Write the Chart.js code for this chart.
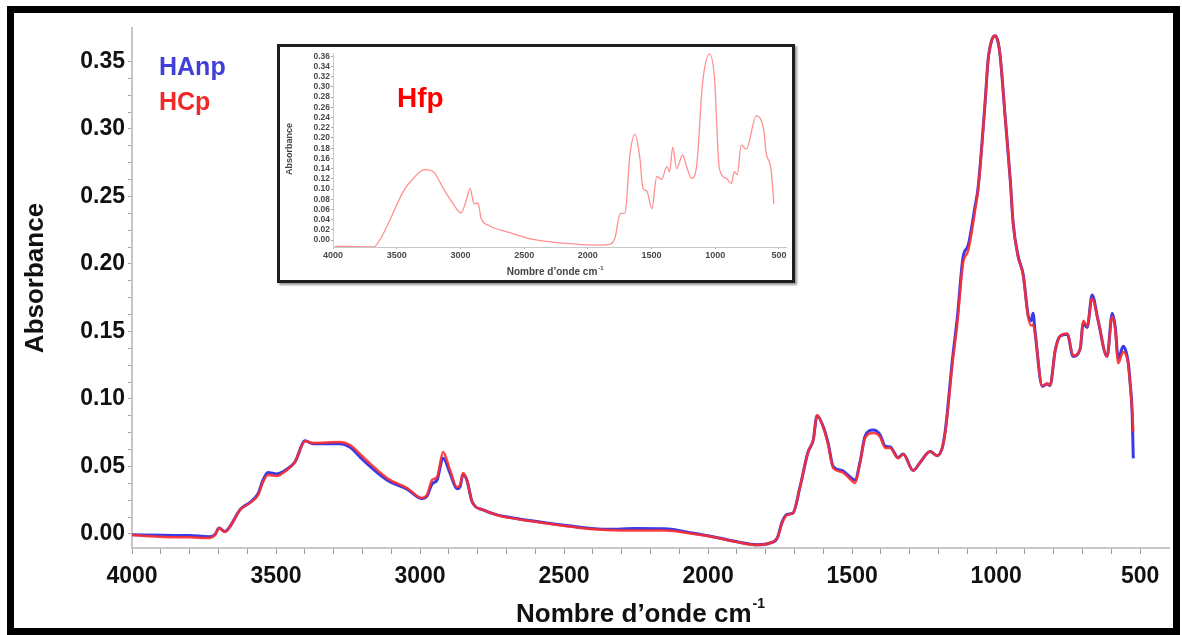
<!DOCTYPE html>
<html>
<head>
<meta charset="utf-8">
<title>Spectres IR HAnp / HCp / Hfp</title>
<script src="https://cdn.jsdelivr.net/npm/chart.js@4.4.0/dist/chart.umd.min.js"></script>
<style>
  html, body { margin: 0; padding: 0; background: #fff; overflow: hidden; }
  #main-wrap { position: absolute; left: 0; top: 0; width: 1182px; height: 635px; }
  #inset-wrap {
    position: absolute; left: 277px; top: 44px; width: 518px; height: 239px;
    box-sizing: border-box; border: 3px solid #1e1e1e; background: #fff;
    box-shadow: 2px 2px 2px #9a9a9a;
  }
</style>
</head>
<body>
<div id="main-wrap"><canvas id="mainChart"></canvas></div>
<div id="inset-wrap"><canvas id="insetChart"></canvas></div>
<script>
// --- DATA ---
// wavenumbers (cm-1) shared by both main spectra
const wavenumbers = [
  4000, 3890, 3800, 3730, 3712, 3698, 3677, 3660, 3625, 3590, 3562, 3545, 3528, 3497, 3462, 3434,
  3399, 3372, 3278, 3243, 3198, 3115, 3045, 2993, 2976, 2958, 2941, 2920, 2896, 2872, 2861, 2851,
  2837, 2819, 2781, 2733, 2687, 2583, 2444, 2350, 2250, 2150, 2050, 1983, 1899, 1830, 1785, 1760,
  1743, 1726, 1705, 1681, 1653, 1635, 1622, 1601, 1583, 1566, 1535, 1514, 1490, 1472, 1455, 1427,
  1403, 1385, 1368, 1340, 1323, 1288, 1264, 1229, 1205, 1187, 1177, 1170, 1153, 1135, 1115, 1097,
  1073, 1063, 1049, 1038, 1028, 1015, 1003, 993, 986, 969, 951, 941, 924, 906, 889, 879,
  872, 865, 840, 823, 813, 795, 778, 753, 733, 708, 698, 684, 667, 646, 615, 597,
  587, 576, 559, 542, 535, 528, 524
];
const hcpValues = [
  -0.0007, -0.0022, -0.0025, -0.003, -0.0007, 0.0044, 0.0015, 0.0052, 0.0178, 0.023, 0.0289, 0.0385, 0.0437, 0.043, 0.0474, 0.0533,
  0.0689, 0.0674, 0.0681, 0.0659, 0.057, 0.0415, 0.034, 0.0267, 0.0289, 0.040, 0.0422, 0.0607, 0.0474, 0.0348, 0.0363, 0.0452,
  0.040, 0.0237, 0.0178, 0.0141, 0.0119, 0.0085, 0.0045, 0.003, 0.0025, 0.0025, 0.0, -0.0022, -0.006, -0.0081, -0.0067, -0.003,
  0.0081, 0.0141, 0.0156, 0.0348, 0.0607, 0.0696, 0.0881, 0.0793, 0.0659, 0.0489, 0.0459, 0.0422, 0.0378, 0.0533, 0.0711, 0.0748,
  0.0719, 0.0637, 0.0637, 0.056, 0.059, 0.047, 0.053, 0.061, 0.058, 0.064, 0.075, 0.087, 0.124, 0.156, 0.2005, 0.21,
  0.24, 0.2545, 0.289, 0.321, 0.351, 0.366, 0.369, 0.364, 0.354, 0.3095, 0.262, 0.23, 0.2055, 0.191, 0.161, 0.1545,
  0.155, 0.1485, 0.1095, 0.1115, 0.11, 0.136, 0.1465, 0.1485, 0.132, 0.1375, 0.158, 0.154, 0.1745, 0.158, 0.1315, 0.161,
  0.152, 0.1265, 0.135, 0.1265, 0.1115, 0.0915, 0.076
];
const hanpValues = [
  -0.0005, -0.001, -0.0012, -0.002, -0.0005, 0.0044, 0.0018, 0.0055, 0.018, 0.0235, 0.030, 0.040, 0.0455, 0.0445, 0.048, 0.0535,
  0.069, 0.0668, 0.0668, 0.0642, 0.0548, 0.040, 0.0332, 0.0262, 0.028, 0.037, 0.040, 0.0563, 0.045, 0.0335, 0.035, 0.044,
  0.0395, 0.0237, 0.0178, 0.0141, 0.0122, 0.0088, 0.005, 0.0035, 0.004, 0.0038, 0.0005, -0.002, -0.0058, -0.008, -0.0067, -0.003,
  0.009, 0.0145, 0.0156, 0.0348, 0.0607, 0.0696, 0.0875, 0.080, 0.067, 0.050, 0.047, 0.0435, 0.040, 0.054, 0.0725, 0.077,
  0.0735, 0.065, 0.0645, 0.0565, 0.0592, 0.047, 0.053, 0.061, 0.058, 0.064, 0.076, 0.089, 0.127, 0.160, 0.205, 0.214,
  0.243, 0.256, 0.29, 0.321, 0.351, 0.366, 0.369, 0.364, 0.354, 0.3095, 0.262, 0.23, 0.206, 0.192, 0.162, 0.158,
  0.1635, 0.150, 0.1095, 0.111, 0.11, 0.136, 0.1465, 0.148, 0.1315, 0.1375, 0.156, 0.153, 0.177, 0.158, 0.1315, 0.1635,
  0.154, 0.130, 0.139, 0.1275, 0.112, 0.090, 0.056
];

// inset spectrum (Hfp)
const insetWavenumbers = [
  3985, 3680, 3634, 3556, 3447, 3369, 3283, 3213, 3135, 3057, 2995, 2956, 2924, 2893, 2862, 2839,
  2776, 2620, 2440, 2192, 1927, 1825, 1786, 1747, 1708, 1670, 1630, 1591, 1568, 1537, 1498, 1459,
  1420, 1381, 1358, 1334, 1303, 1256, 1225, 1186, 1147, 1100, 1046, 1007, 968, 913, 874, 851,
  828, 796, 757, 678, 639, 617, 602, 563, 540
];
const hfpValues = [
  -0.012, -0.013, 0.0, 0.038, 0.096, 0.121, 0.138, 0.134, 0.1015, 0.071, 0.0536, 0.0766, 0.1015, 0.071, 0.0728, 0.044,
  0.0287, 0.0153, 0.002, -0.006, -0.0096, -0.0077, 0.0057, 0.0517, 0.0536, 0.1667, 0.207, 0.159, 0.1015, 0.096, 0.0613, 0.1245,
  0.1188, 0.1437, 0.134, 0.182, 0.14, 0.1667, 0.1437, 0.121, 0.1437, 0.3065, 0.364, 0.32, 0.14, 0.121, 0.111, 0.134,
  0.128, 0.186, 0.178, 0.243, 0.234, 0.211, 0.172, 0.14, 0.071
];

// tick labels
const xTickValues = [4000, 3500, 3000, 2500, 2000, 1500, 1000, 500];
const yTickValues = [0.00, 0.05, 0.10, 0.15, 0.20, 0.25, 0.30, 0.35];
const insetXTicks = [4000, 3500, 3000, 2500, 2000, 1500, 1000, 500];
const insetYTicks = [0.00, 0.02, 0.04, 0.06, 0.08, 0.10, 0.12, 0.14, 0.16, 0.18, 0.20, 0.22, 0.24, 0.26, 0.28, 0.30, 0.32, 0.34, 0.36];

const FONT = "'Liberation Sans', Arial, sans-serif";

function toPoints(xs, ys) {
  return xs.map((x, i) => ({ x: x, y: ys[i] }));
}

// minor ticks: every 100 cm-1, every 0.0125 absorbance
const xMinor = [];
for (let w = 4000; w >= 500; w -= 100) xMinor.push(w);
const yMinor = [];
for (let k = 0; k <= 28; k++) yMinor.push(+(k * 0.0125).toFixed(4));

// --- MAIN CHART DECORATIONS ---
const mainDecor = {
  id: 'mainDecor',
  beforeDraw(chart) {
    const ctx = chart.ctx;
    ctx.save();
    ctx.fillStyle = '#fff';
    ctx.fillRect(0, 0, chart.width, chart.height);
    ctx.restore();
  },
  afterDraw(chart) {
    const ctx = chart.ctx;
    ctx.save();

    // outer black frame
    ctx.strokeStyle = '#000';
    ctx.lineWidth = 7;
    ctx.strokeRect(10.5, 9.5, 1166, 622);

    // legend texts
    ctx.textAlign = 'left';
    ctx.textBaseline = 'alphabetic';
    ctx.font = 'bold 25px ' + FONT;
    ctx.fillStyle = '#4040d8';
    ctx.fillText('HAnp', 159, 75);
    ctx.fillStyle = '#f02828';
    ctx.fillText('HCp', 159, 110);

    // y title
    ctx.fillStyle = '#111';
    ctx.font = 'bold 26px ' + FONT;
    ctx.translate(43, 278);
    ctx.rotate(-Math.PI / 2);
    ctx.textAlign = 'center';
    ctx.fillText('Absorbance', 0, 0);
    ctx.setTransform(1, 0, 0, 1, 0, 0);

    // x title with superscript
    const base = 'Nombre d\u2019onde cm';
    ctx.font = 'bold 26px ' + FONT;
    const w1 = ctx.measureText(base).width;
    ctx.font = 'bold 14px ' + FONT;
    const w2 = ctx.measureText('-1').width;
    const x0 = 640 - (w1 + w2) / 2;
    ctx.textAlign = 'left';
    ctx.font = 'bold 26px ' + FONT;
    ctx.fillText(base, x0, 622);
    ctx.font = 'bold 14px ' + FONT;
    ctx.fillText('-1', x0 + w1 + 1, 608);

    ctx.restore();
  }
};

new Chart(document.getElementById('mainChart'), {
  type: 'line',
  data: {
    datasets: [
      {
        label: 'HAnp',
        data: toPoints(wavenumbers, hanpValues),
        borderColor: '#3a3ae6',
        borderWidth: 3,
        pointRadius: 0,
        order: 2,
        cubicInterpolationMode: 'monotone'
      },
      {
        label: 'HCp',
        data: toPoints(wavenumbers, hcpValues),
        borderColor: 'rgba(255, 45, 45, 0.9)',
        borderWidth: 2.5,
        pointRadius: 0,
        order: 1,
        cubicInterpolationMode: 'monotone'
      }
    ]
  },
  options: {
    responsive: true,
    maintainAspectRatio: false,
    animation: false,
    layout: { padding: { top: 28, right: 13, bottom: 0, left: 0 } },
    plugins: { legend: { display: false }, tooltip: { enabled: false } },
    scales: {
      x: {
        type: 'linear',
        min: 400,
        max: 4000,
        reverse: true,
        grid: { display: true, drawOnChartArea: false, drawTicks: true, tickLength: 6, color: '#9a9a9a', lineWidth: 1 },
        border: { display: true, color: '#c6c6c6', width: 2 },
        ticks: {
          autoSkip: false,
          maxRotation: 0,
          padding: 9,
          color: '#111',
          font: { family: FONT, size: 23, weight: 'bold' },
          callback: (v) => xTickValues.includes(v) ? String(v) : ''
        },
        afterBuildTicks: (s) => { s.ticks = xMinor.map(v => ({ value: v })); },
        afterFit: (s) => { s.height = 87; }
      },
      y: {
        min: -0.0104,
        max: 0.3748,
        grid: { display: true, drawOnChartArea: false, drawTicks: true, tickLength: 4, color: '#a0a0a0', lineWidth: 1 },
        border: { display: true, color: '#c6c6c6', width: 2 },
        ticks: {
          autoSkip: false,
          padding: 3,
          color: '#111',
          font: { family: FONT, size: 23, weight: 'bold' },
          callback: (v) => yTickValues.some(t => Math.abs(t - v) < 1e-6) ? v.toFixed(2) : ''
        },
        afterBuildTicks: (s) => { s.ticks = yMinor.map(v => ({ value: v })); },
        afterFit: (s) => { s.width = 132; }
      }
    }
  },
  plugins: [mainDecor]
});

// --- INSET CHART ---
const insetDecor = {
  id: 'insetDecor',
  beforeDraw(chart) {
    const ctx = chart.ctx;
    ctx.save();
    ctx.fillStyle = '#fff';
    ctx.fillRect(0, 0, chart.width, chart.height);
    ctx.restore();
  },
  afterDraw(chart) {
    const ctx = chart.ctx;
    ctx.save();
    ctx.fillStyle = '#ff0000';
    ctx.font = 'bold 28px ' + FONT;
    ctx.textAlign = 'left';
    ctx.fillText('Hfp', 117, 60);

    ctx.fillStyle = '#444';
    ctx.font = 'bold 9px ' + FONT;
    ctx.translate(12, 102);
    ctx.rotate(-Math.PI / 2);
    ctx.textAlign = 'center';
    ctx.fillText('Absorbance', 0, 0);
    ctx.setTransform(1, 0, 0, 1, 0, 0);

    const base = 'Nombre d\u2019onde cm';
    ctx.font = 'bold 10px ' + FONT;
    const w1 = ctx.measureText(base).width;
    const x0 = 276 - (w1 + 8) / 2;
    ctx.textAlign = 'left';
    ctx.fillText(base, x0, 228);
    ctx.font = 'bold 6px ' + FONT;
    ctx.fillText('-1', x0 + w1 + 1, 223);
    ctx.restore();
  }
};

new Chart(document.getElementById('insetChart'), {
  type: 'line',
  data: {
    datasets: [{
      label: 'Hfp',
      data: toPoints(insetWavenumbers, hfpValues),
      borderColor: '#ff9090',
      borderWidth: 1.3,
      pointRadius: 0,
      cubicInterpolationMode: 'monotone'
    }]
  },
  options: {
    responsive: true,
    maintainAspectRatio: false,
    animation: false,
    layout: { padding: { top: 2, right: 6, bottom: 0, left: 0 } },
    plugins: { legend: { display: false }, tooltip: { enabled: false } },
    scales: {
      x: {
        type: 'linear',
        min: 445,
        max: 4000,
        reverse: true,
        grid: { display: true, drawOnChartArea: false, tickLength: 2, color: '#aaa' },
        border: { display: true, color: '#c8c8c8', width: 1 },
        ticks: {
          autoSkip: false,
          maxRotation: 0,
          padding: 1,
          color: '#4a4a4a',
          font: { family: FONT, size: 9, weight: 'bold' },
          callback: (v) => String(v)
        },
        afterBuildTicks: (s) => { s.ticks = insetXTicks.map(v => ({ value: v })); },
        afterFit: (s) => { s.height = 33; }
      },
      y: {
        min: -0.0134,
        max: 0.366,
        grid: { display: true, drawOnChartArea: false, tickLength: 2, color: '#aaa' },
        border: { display: true, color: '#c8c8c8', width: 1 },
        ticks: {
          autoSkip: false,
          padding: 1,
          color: '#4a4a4a',
          font: { family: FONT, size: 8.5, weight: 'bold' },
          callback: (v) => v.toFixed(2)
        },
        afterBuildTicks: (s) => { s.ticks = insetYTicks.map(v => ({ value: v })); },
        afterFit: (s) => { s.width = 53; }
      }
    }
  },
  plugins: [insetDecor]
});
</script>
</body>
</html>
